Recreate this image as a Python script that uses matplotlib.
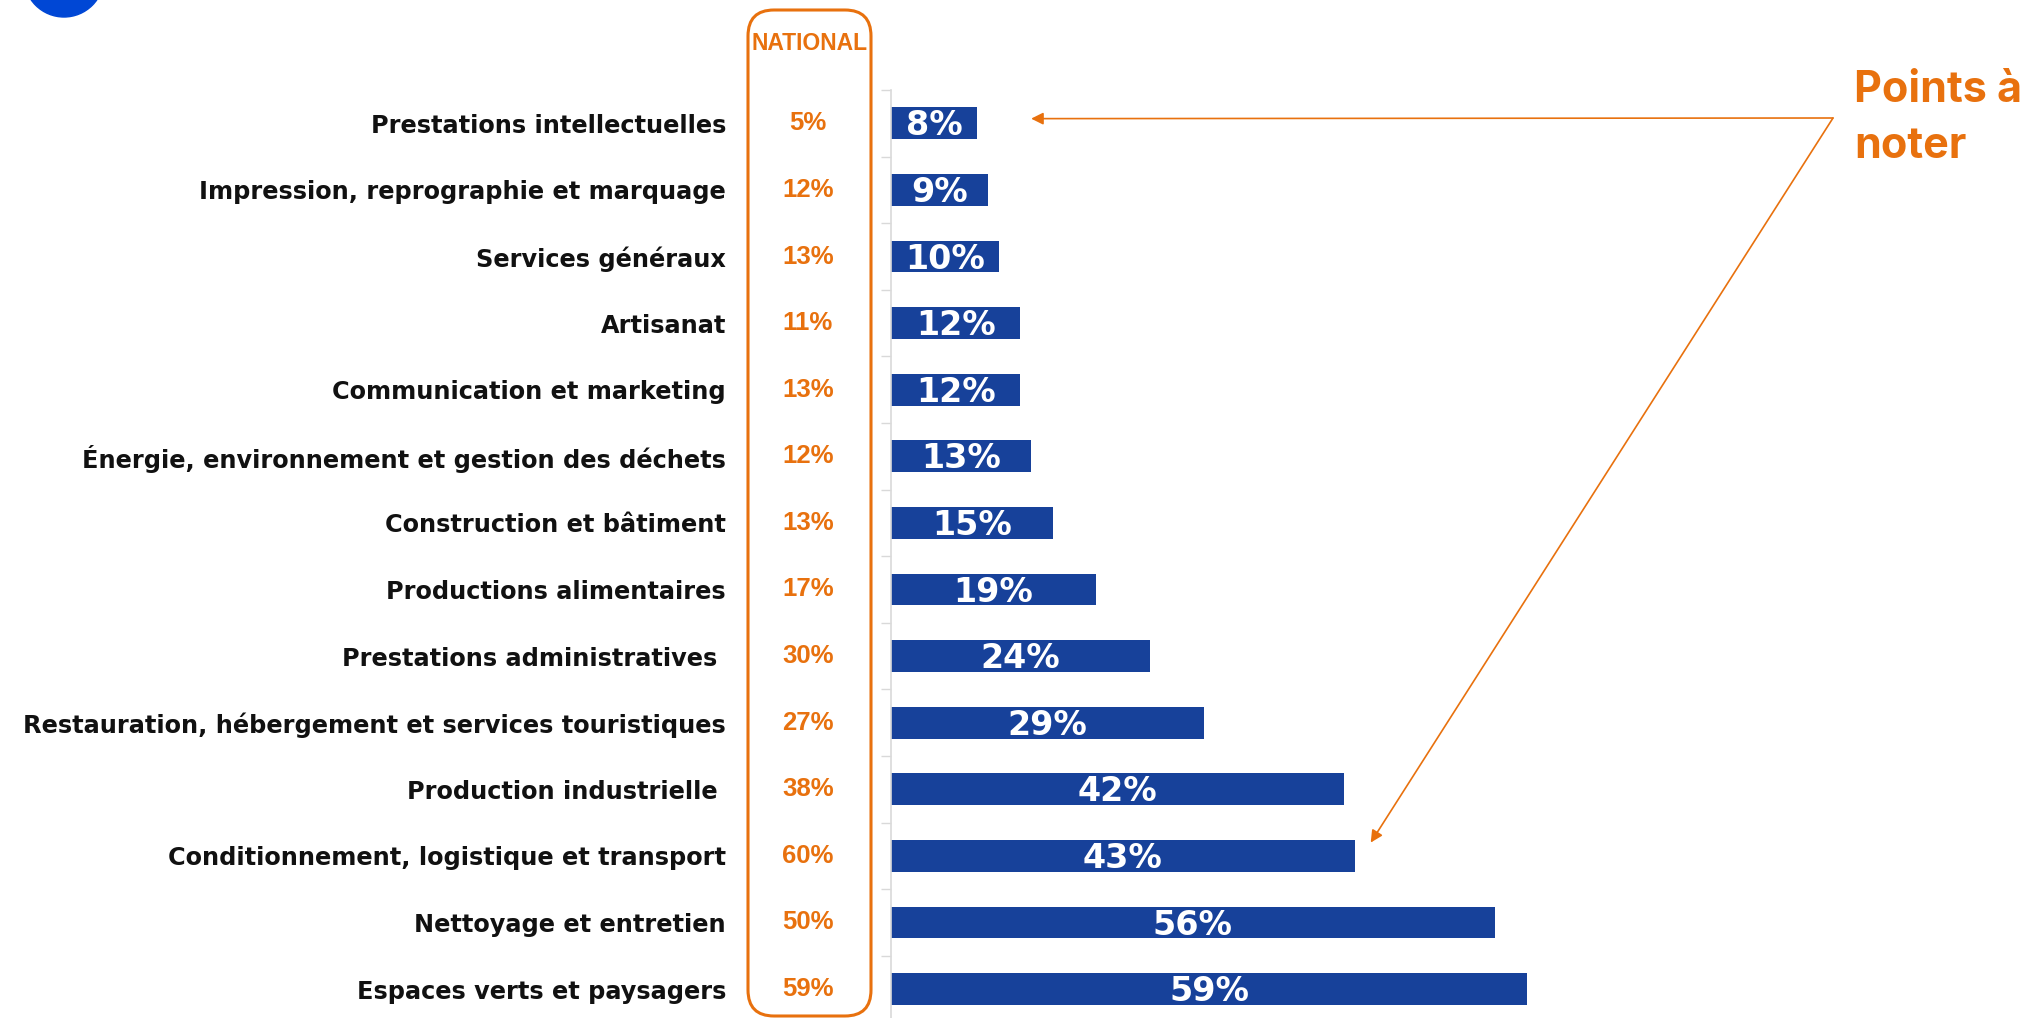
import matplotlib
matplotlib.use("Agg")
import matplotlib.pyplot as plt
import matplotlib.transforms as mtransforms
from matplotlib.patches import FancyBboxPatch, Ellipse, FancyArrowPatch
import numpy as np

categories = [
    "Prestations intellectuelles",
    "Impression, reprographie et marquage",
    "Services généraux",
    "Artisanat",
    "Communication et marketing",
    "Énergie, environnement et gestion des déchets",
    "Construction et bâtiment",
    "Productions alimentaires",
    "Prestations administratives ",
    "Restauration, hébergement et services touristiques",
    "Production industrielle ",
    "Conditionnement, logistique et transport",
    "Nettoyage et entretien",
    "Espaces verts et paysagers",
]
local_pct = [8, 9, 10, 12, 12, 13, 15, 19, 24, 29, 42, 43, 56, 59]
national_pct = [5, 12, 13, 11, 13, 12, 13, 17, 30, 27, 38, 60, 50, 59]

BLUE = "#17419A"
ORANGE = "#E8710E"
GREY = "#D9D9D9"

W, H = 2028, 1018
fig = plt.figure(figsize=(W / 100, H / 100), dpi=100)
fig.patch.set_facecolor("white")

# axes geometry in pixels
row_h = 66.6
top_px = 90
ax_left = 891
ax_w = 1078
ylim_bottom = 14.0
ax_h = (ylim_bottom + 0.5) * row_h
ax = fig.add_axes([ax_left / W, 1 - (top_px + ax_h) / H, ax_w / W, ax_h / H])

y = np.arange(len(categories))
ax.barh(y, local_pct, height=0.48, color=BLUE)
ax.set_xlim(0, 100)
ax.set_ylim(ylim_bottom, -0.5)

for yi, v in zip(y, local_pct):
    ax.text(v / 2, yi + 0.04, f"{v}%", ha="center", va="center", color="white",
            fontsize=24, fontweight="bold", family="DejaVu Sans")

for s in ["top", "right", "bottom"]:
    ax.spines[s].set_visible(False)
ax.spines["left"].set_color(GREY)
ax.spines["left"].set_linewidth(1.2)
ax.set_xticks([])
ax.set_yticks(y)
ax.set_yticklabels(categories, fontsize=17.3, fontweight="bold", color="#111111")
ax.tick_params(axis="y", which="major", length=0, pad=(ax_left - 726) * 0.72)
ax.set_yticks(np.arange(-0.5, len(categories) + 0.5, 1), minor=True)
ax.tick_params(axis="y", which="minor", length=7, color=GREY, width=1)

# national column
trans = mtransforms.blended_transform_factory(fig.transFigure, ax.transData)
for yi, v in zip(y, national_pct):
    ax.text(808 / W, yi, f"{v}%", transform=trans, ha="center", va="center",
            color=ORANGE, fontsize=18.5, fontweight="bold", family="Liberation Sans")
fig.text(810 / W, 1 - 43 / H, "NATIONAL", ha="center", va="center", color=ORANGE,
         fontsize=16.5, fontweight="bold", family="Liberation Sans")
box = FancyBboxPatch((7.48, 0.02), 1.23, 10.06,
                     boxstyle="round,pad=0,rounding_size=0.26",
                     transform=fig.dpi_scale_trans, fill=False,
                     edgecolor=ORANGE, linewidth=2.2)
fig.add_artist(box)

# blue circle in corner
fig.add_artist(Ellipse((64 / W, 1 + 23 / H), 80 / W, 80 / H,
                       transform=fig.transFigure, color="#0047D5"))

# annotation
fig.text(1854 / W, 1 - 90 / H, "Points à", ha="left", va="center", color=ORANGE,
         fontsize=31, fontweight="bold", family="Inter")
fig.text(1854 / W, 1 - 146 / H, "noter", ha="left", va="center", color=ORANGE,
         fontsize=31, fontweight="bold", family="Inter")

start = (1833 / W, 1 - 118 / H)
for tip in [(13, -0.07), (44.5, 10.8)]:
    arr = FancyArrowPatch(posA=(0, 0), posB=(1, 1), arrowstyle="-|>", mutation_scale=18,
                          color=ORANGE, linewidth=1.2, shrinkA=0, shrinkB=0)
    arr.set_positions(fig.transFigure.transform(start), ax.transData.transform(tip))
    arr.set_transform(mtransforms.IdentityTransform())
    fig.add_artist(arr)

fig.savefig("out.png", dpi=100, facecolor="white")
